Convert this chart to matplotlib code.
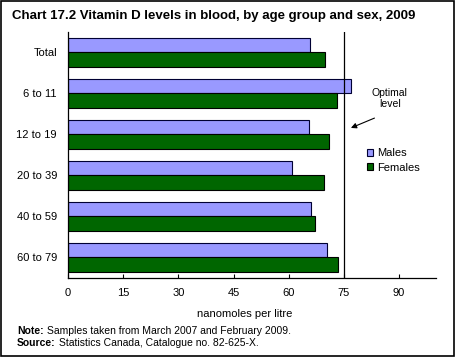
import numpy as np
import matplotlib.pyplot as plt
from matplotlib.patches import Rectangle

plt.rcParams['font.family'] = ['Liberation Sans', 'DejaVu Sans']

groups = ['Total', '6 to 11', '12 to 19', '20 to 39', '40 to 59', '60 to 79']
males = [65.7, 76.9, 65.5, 60.8, 66.0, 70.4]
females = [69.8, 73.1, 70.9, 69.5, 67.1, 73.4]
optimal = 75

fig = plt.figure(figsize=(4.55, 3.57), dpi=100)
ax = fig.add_axes([0.1495, 0.2213, 0.8085, 0.6891])

y = np.arange(len(groups))
h = 0.35
ax.barh(y - h / 2, males, height=h, color='#9999ff', edgecolor='#000033',
        linewidth=0.8, label='Males')
ax.barh(y + h / 2, females, height=h, color='#006600', edgecolor='#000000',
        linewidth=0.8, label='Females')
ax.axvline(optimal, color='black', linewidth=0.9)

ax.set_xlim(0, 100)
ax.set_ylim(len(groups) - 0.5, -0.5)
ax.set_yticks(y)
ax.set_yticklabels(groups, fontsize=8)
ax.set_xticks(np.arange(0, 91, 15))
ax.tick_params(axis='x', direction='in', length=3, labelsize=8, pad=7)
ax.tick_params(axis='y', length=0, pad=8)
for s in ['top', 'right']:
    ax.spines[s].set_visible(False)
ax.spines['left'].set_linewidth(0.9)
ax.spines['bottom'].set_linewidth(0.9)
ax.set_xlabel('nanomoles per litre', fontsize=8)
ax.xaxis.set_label_coords(0.48, -0.125)

ax.legend(loc='upper left', bbox_to_anchor=(0.8, 0.545), frameon=False,
          fontsize=8, handlelength=0.6, handleheight=0.6, handletextpad=0.3,
          labelspacing=0.4, borderaxespad=0)

ax.text(87.5, 1.13, 'Optimal\nlevel', ha='center', va='center', fontsize=7.5,
        linespacing=1.1)
ax.annotate('', xy=(76.9, 1.84), xytext=(83.3, 1.6),
            arrowprops=dict(arrowstyle='-|>', color='black', lw=0.8,
                            shrinkA=0, shrinkB=0, mutation_scale=8))

fig.text(0.026, 0.955, 'Chart 17.2 Vitamin D levels in blood, by age group and sex, 2009',
         fontsize=9.5, fontweight='bold', va='center')

# footnotes: bold lead-in, regular text right after it
notes = [('Note:', 'Samples taken from March 2007 and February 2009.', 0.073),
         ('Source:', 'Statistics Canada, Catalogue no. 82-625-X.', 0.039)]
for lead, rest, ypos in notes:
    t = fig.text(0.037, ypos, lead, fontsize=7.5, fontweight='bold', va='center')
    fig.add_artist(plt.Annotation(rest, xy=(1, 0.5), xycoords=t,
                                  xytext=(2.5, 0), textcoords='offset points',
                                  fontsize=7.5, va='center'))

fig.add_artist(Rectangle((0.002, 0.003), 0.995, 0.993, transform=fig.transFigure,
                         fill=False, edgecolor='black', linewidth=1.2))

fig.savefig('out.png', dpi=100)
